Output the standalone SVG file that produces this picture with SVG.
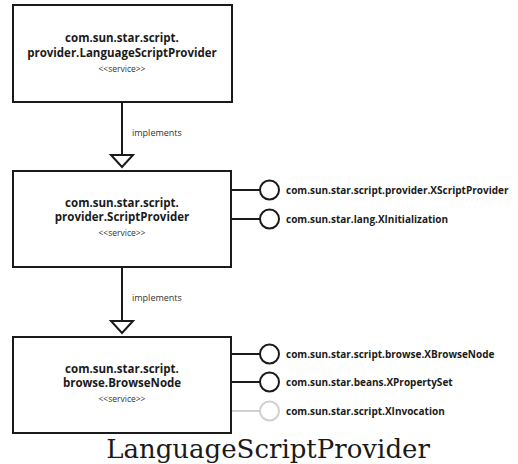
<svg xmlns="http://www.w3.org/2000/svg" width="518" height="464" viewBox="0 0 518 464">
<style>
.box{fill:#fff;stroke:#1a1a1a;stroke-width:2}
.t{font-family:"Open Sans","Liberation Sans",sans-serif;font-weight:bold;font-size:11.5px;fill:#1a1a1a;text-anchor:middle}
.s{font-family:"Open Sans","Liberation Sans",sans-serif;font-size:8.5px;fill:#333;text-anchor:middle}
.lbl{font-family:"Open Sans","Liberation Sans",sans-serif;font-size:9px;fill:#333}
.if{font-family:"Open Sans","Liberation Sans",sans-serif;font-weight:bold;font-size:10px;fill:#1a1a1a}
.ln{stroke:#1a1a1a;stroke-width:2;fill:none}
.ci{stroke:#1a1a1a;stroke-width:2;fill:#fff}
.gl{stroke:#d0d0d0;stroke-width:2;fill:none}
.gc{stroke:#d0d0d0;stroke-width:2;fill:#fff}
.tri{fill:#fff;stroke:#1a1a1a;stroke-width:2;stroke-linejoin:miter}
.title{font-family:"DejaVu Serif",serif;font-size:26px;fill:#1a1a1a;text-anchor:middle}
</style>
<rect width="518" height="464" fill="#fff"/>
<g id="connectors">
<line class="ln" x1="122" y1="102" x2="122" y2="155"/>
<polygon class="tri" points="111,155 133,155 122,167"/>
<text class="lbl" x="132" y="136">implements</text>
<line class="ln" x1="122" y1="267" x2="122" y2="321"/>
<polygon class="tri" points="111,321 133,321 122,333"/>
<text class="lbl" x="132" y="301">implements</text>
<line class="ln" x1="231" y1="190" x2="260" y2="190"/>
<line class="ln" x1="231" y1="219" x2="260" y2="219"/>
<line class="ln" x1="231" y1="354" x2="260" y2="354"/>
<line class="ln" x1="231" y1="382" x2="260" y2="382"/>
<line class="gl" x1="231" y1="411" x2="260" y2="411"/>
</g>
<g id="n1">
<rect class="box" x="13" y="5" width="219" height="97"/>
<text class="t" x="122" y="42">com.sun.star.script.</text>
<text class="t" x="122" y="57">provider.LanguageScriptProvider</text>
<text class="s" x="122" y="72">&lt;&lt;service&gt;&gt;</text>
</g>
<g id="n2">
<rect class="box" x="13" y="171" width="218" height="96"/>
<text class="t" x="122" y="207">com.sun.star.script.</text>
<text class="t" x="122" y="221">provider.ScriptProvider</text>
<text class="s" x="122" y="236">&lt;&lt;service&gt;&gt;</text>
</g>
<g id="n3">
<rect class="box" x="13" y="337" width="218" height="96"/>
<text class="t" x="122" y="373">com.sun.star.script.</text>
<text class="t" x="122" y="387">browse.BrowseNode</text>
<text class="s" x="122" y="402">&lt;&lt;service&gt;&gt;</text>
</g>
<g id="i1"><circle class="ci" cx="269.5" cy="190" r="9.5"/><text class="if" x="286" y="193.5">com.sun.star.script.provider.XScriptProvider</text></g>
<g id="i2"><circle class="ci" cx="269.5" cy="219" r="9.5"/><text class="if" x="286" y="222.5">com.sun.star.lang.XInitialization</text></g>
<g id="i3"><circle class="ci" cx="269.5" cy="354" r="9.5"/><text class="if" x="286" y="357.5">com.sun.star.script.browse.XBrowseNode</text></g>
<g id="i4"><circle class="ci" cx="269.5" cy="382" r="9.5"/><text class="if" x="286" y="385.5">com.sun.star.beans.XPropertySet</text></g>
<g id="i5"><circle class="gc" cx="269.5" cy="411" r="9.5"/><text class="if" x="286" y="414.5">com.sun.star.script.XInvocation</text></g>
<text id="title" class="title" x="268" y="458">LanguageScriptProvider</text>
</svg>
